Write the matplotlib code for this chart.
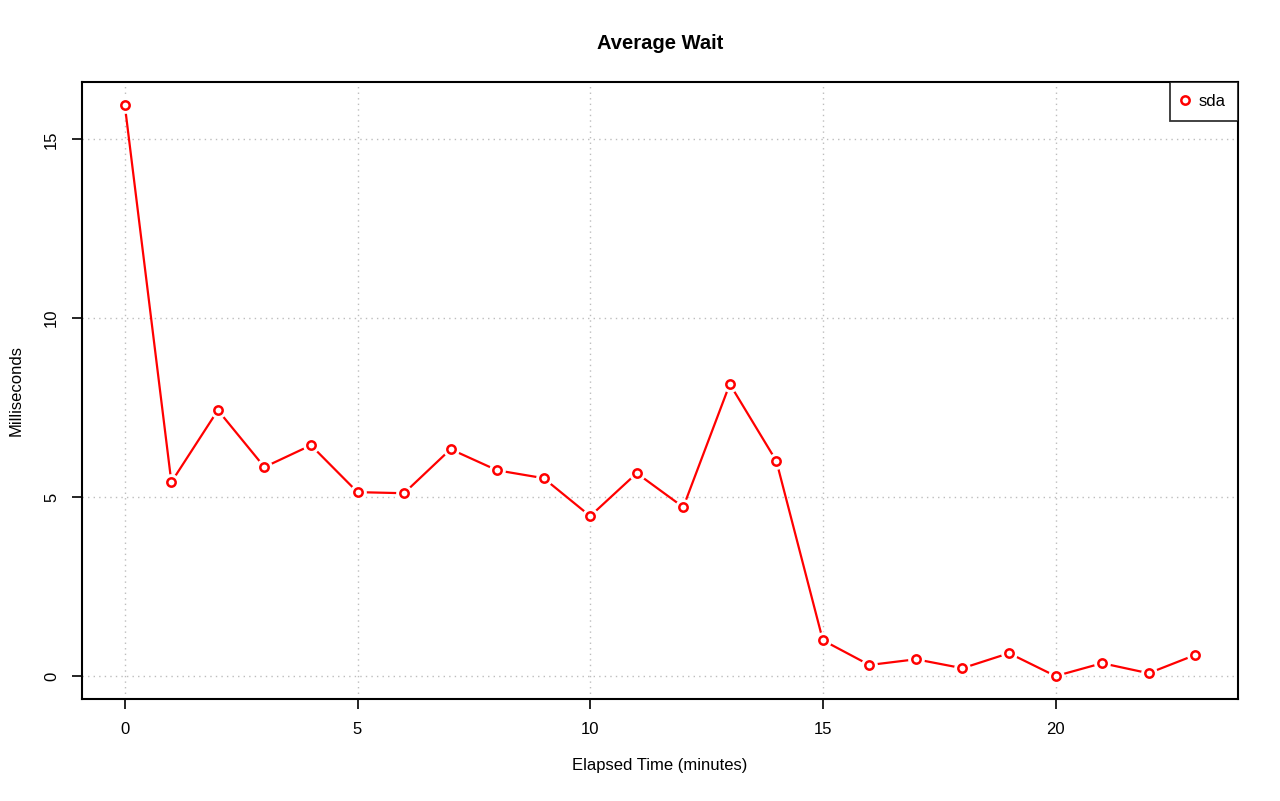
import matplotlib
matplotlib.use("Agg")
import matplotlib.pyplot as plt
from matplotlib.lines import Line2D

plt.rcParams['font.family'] = ['Liberation Sans', 'DejaVu Sans']

minutes = list(range(24))
wait_ms = [15.95, 5.42, 7.43, 5.84, 6.45, 5.14, 5.11, 6.34, 5.75, 5.53,
           4.47, 5.67, 4.72, 8.16, 6.01, 1.0, 0.31, 0.47, 0.22, 0.64,
           0.0, 0.36, 0.08, 0.59]
series_name = "sda"

fig = plt.figure(figsize=(12.8, 8.01), dpi=100)
ax = fig.add_axes([82/1280, 1 - 699/801, (1238-82)/1280, (699-82)/801])

# R type="b": line broken around each point
ax.plot(minutes, wait_ms, color='red', linewidth=1.6, zorder=2)
ax.plot(minutes, wait_ms, linestyle='none', marker='o', markersize=11,
        markerfacecolor='white', markeredgecolor='white', zorder=3)
ax.plot(minutes, wait_ms, linestyle='none', marker='o', markersize=6,
        markerfacecolor='white', markeredgecolor='red', markeredgewidth=1.8, zorder=4)

ax.set_xlim(-0.92, 23.92)
ax.set_ylim(-0.64, 16.6)
ax.set_xticks([0, 5, 10, 15, 20])
ax.set_yticks([0, 5, 10, 15])
ax.grid(True, color='#bdbdbd', linestyle=(0, (1, 3)), linewidth=1.0)
ax.set_axisbelow(True)
for s in ax.spines.values():
    s.set_linewidth(1.5)
ax.tick_params(direction='out', length=7.5, width=1.2, labelsize=12, pad=9)
for lab in ax.get_yticklabels():
    lab.set_rotation(90)
    lab.set_va('center')

ax.set_title("Average Wait", fontsize=14.5, fontweight='bold', pad=24)
ax.set_xlabel("Elapsed Time (minutes)", fontsize=12, labelpad=15)
ax.set_ylabel("Milliseconds", fontsize=12, labelpad=15)

h = Line2D([], [], linestyle='none', marker='o', markersize=6,
           markerfacecolor='white', markeredgecolor='red', markeredgewidth=1.8)
leg = ax.legend([h], [series_name], loc='upper right', bbox_to_anchor=(1.0, 1.0),
                fontsize=12, frameon=True, fancybox=False, borderaxespad=0,
                handlelength=0.4, handletextpad=0.65, borderpad=0.72)
leg.get_frame().set_edgecolor('black')
leg.get_frame().set_linewidth(1.3)

fig.savefig("out.png", dpi=100)
